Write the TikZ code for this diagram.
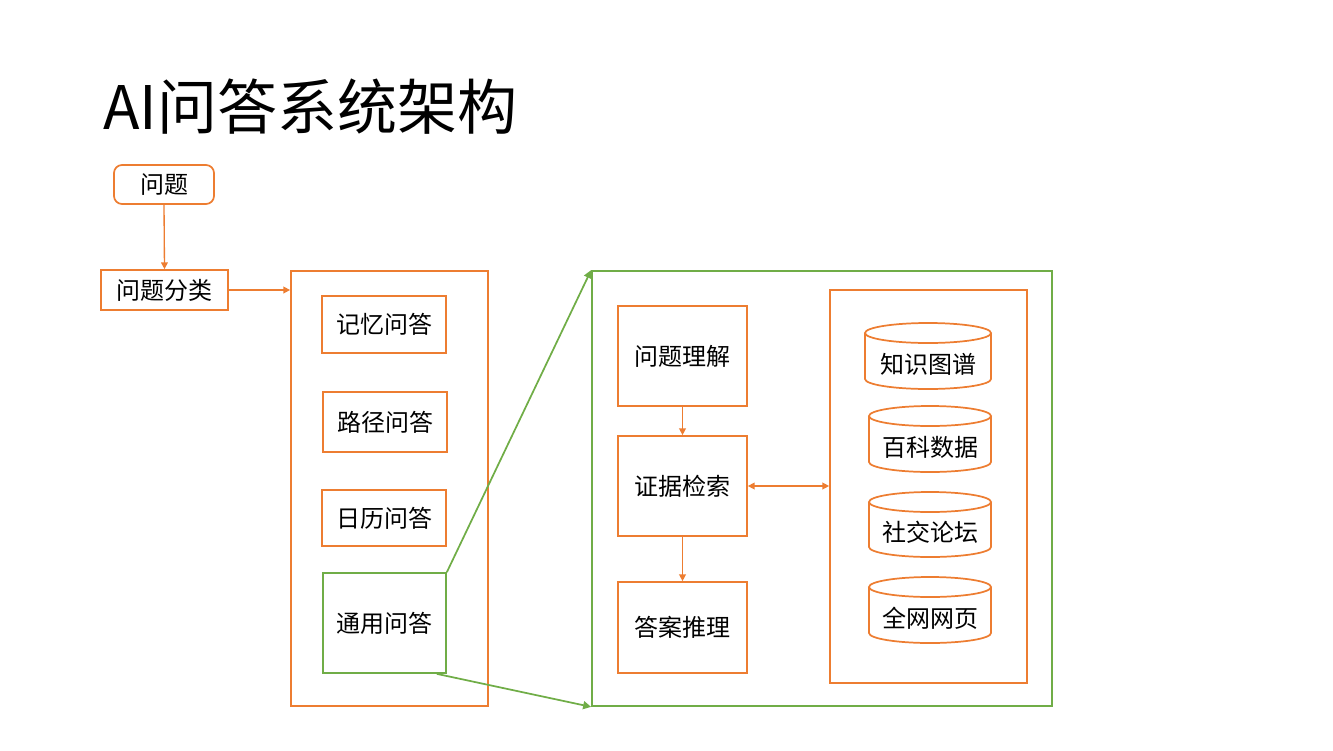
\documentclass[tikz,border=0pt]{standalone}
\usepackage{fontspec}
\setmainfont{Noto Sans CJK SC}
\usetikzlibrary{arrows.meta,calc}
\definecolor{org}{HTML}{ED7D31}
\definecolor{grn}{HTML}{70AD47}
\tikzset{
  obox/.style={draw=org, line width=1.3pt, inner sep=0pt, font=\fontsize{18}{21}\selectfont},
  gbox/.style={draw=grn, line width=1.3pt, inner sep=0pt, font=\fontsize{18}{21}\selectfont},
  oarr/.style={draw=org, line width=1pt, -{Triangle[width=5pt,length=5pt]}},
  garr/.style={draw=grn, line width=1.3pt, -{Triangle[width=6pt,length=6pt]}},
  cyl/.style={draw=org, line width=1.3pt},
  ctext/.style={font=\fontsize{18}{21}\selectfont, inner sep=0pt}
}
\begin{document}
\begin{tikzpicture}[x=0.75pt,y=0.75pt]
\useasboundingbox (0,0) rectangle (1333,-750);
\node[anchor=base west, inner sep=0pt, font=\fontsize{45}{50}\selectfont] (title) at (103,-129) {AI问答系统架构};

\node[obox, rounded corners=6pt, minimum width=75pt, minimum height=29.25pt] (q) at (164,-184.5) {问题};
\node[obox, minimum width=95.25pt, minimum height=30pt] (qc) at (164.5,-290) {问题分类};
\node[obox, minimum width=147.75pt, minimum height=326.25pt] (cat) at (389.5,-488.5) {};
\node[obox, minimum width=93pt, minimum height=42.75pt] (jy) at (384,-324.5) {记忆问答};
\node[obox, minimum width=93pt, minimum height=45pt] (lj) at (385,-422) {路径问答};
\node[obox, minimum width=93pt, minimum height=42pt] (rl) at (384,-518) {日历问答};
\node[gbox, minimum width=92.25pt, minimum height=75pt] (ty) at (384.5,-623) {通用问答};

\node[gbox, minimum width=345pt, minimum height=326.25pt] (gen) at (822,-488.5) {};
\node[obox, minimum width=96.75pt, minimum height=75pt] (lj2) at (682.5,-356) {问题理解};
\node[obox, minimum width=96.75pt, minimum height=75pt] (zj) at (682.5,-486) {证据检索};
\node[obox, minimum width=96.75pt, minimum height=68.25pt] (da) at (682.5,-627.5) {答案推理};
\node[obox, minimum width=147.75pt, minimum height=294.75pt] (src) at (928.5,-486.5) {};

% cylinders
\foreach \xa/\xb/\ya/\yb/\nm/\txt in {865/991/323/389/c1/知识图谱, 869/991/406/472/c2/百科数据, 869/991/492/557/c3/社交论坛, 869/991/577/643/c4/全网网页}{
  \pgfmathsetmacro{\cx}{(\xa+\xb)/2}
  \pgfmathsetmacro{\rx}{(\xb-\xa)/2}
  \draw[cyl] (\cx,-\ya-10) ellipse [x radius=\rx, y radius=10];
  \draw[cyl] (\xa,-\ya-10) -- (\xa,-\yb+10) arc[start angle=180, end angle=360, x radius=\rx, y radius=10] -- (\xb,-\ya-10);
  \node[ctext] (\nm) at (\cx,{-(\ya+\yb+20)/2+2}) {\txt};
}

\draw[oarr] (q.south) -- (qc.north);
\draw[oarr] (qc.east) -- (qc.east -| cat.west);
\draw[oarr] (lj2.south) -- (zj.north);
\draw[oarr] (zj.south) -- (zj.south |- da.north);
\draw[draw=org, line width=1pt, {Triangle[width=5pt,length=5pt]}-{Triangle[width=5pt,length=5pt]}] (zj.east) -- (zj.east -| src.west);
\coordinate (tyb) at ($(ty.south east)+(-10,0)$);
\draw[garr] (ty.north east) -- (gen.north west);
\draw[garr] (tyb) -- (gen.south west);
\end{tikzpicture}
\end{document}
